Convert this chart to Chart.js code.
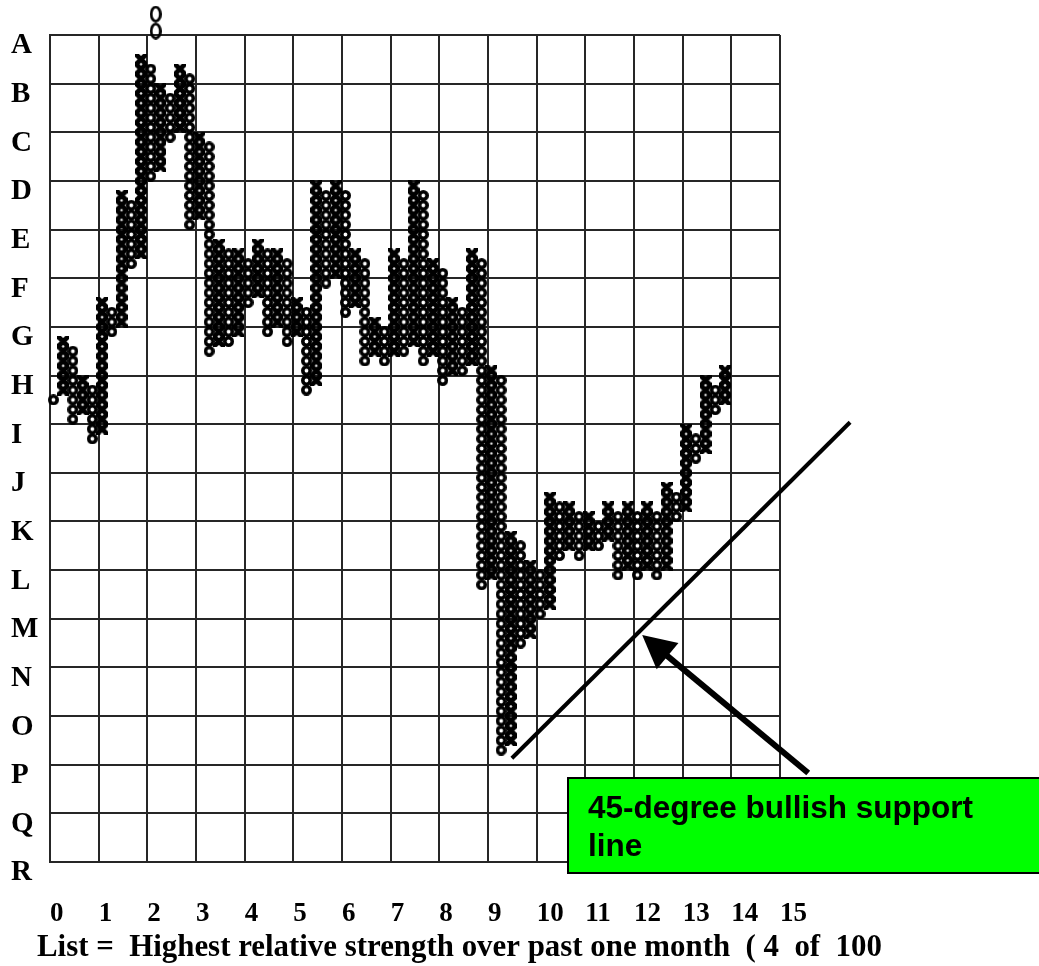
<!DOCTYPE html>
<html>
<head>
<meta charset="utf-8">
<script src="https://cdn.jsdelivr.net/npm/chart.js@4/dist/chart.umd.min.js"></script>
<style>
  html, body { margin: 0; padding: 0; background: #fff; }
  #wrap { width: 1039px; height: 966px; position: relative; }
</style>
</head>
<body>
<div id="wrap"><canvas id="c" width="1039" height="966"></canvas></div>
<script>
// ---------- DATA ----------
// Tick labels (y bottom -> top, x left -> right)
const yTickLabels = ['R','Q','P','O','N','M','L','K','J','I','H','G','F','E','D','C','B','A'];
const xTickLabels = ['0','1','2','3','4','5','6','7','8','9','10','11','12','13','14','15'];

// Point & figure columns (box units: 5 boxes per grid cell)
const colTypes = ['O','X','O','X','O','X','O','X','O','X',
                  'O','X','O','X','O','X','O','X','O','X',
                  'O','X','O','X','O','X','O','X','O','X',
                  'O','X','O','X','O','X','O','X','O','X',
                  'O','X','O','X','O','X','O','X','O','X',
                  'O','X','O','X','O','X','O','X','O','X',
                  'O','X','O','X','O','X','O','X','O','X'];
const colLow  = [47,48,45,46,43,44,54,55,61,62,
                 70,71,74,75,65,66,52,53,53,54,
                 57,58,54,55,53,54,48,49,59,60,
                 56,57,51,52,51,52,52,53,51,52,
                 49,50,50,51,28,29,11,12,22,23,
                 25,26,31,32,31,32,32,33,29,30,
                 29,30,29,30,35,36,41,42,46,47];
const colHigh = [47,53,52,49,48,57,56,68,67,82,
                 81,79,78,81,80,74,73,63,62,62,
                 61,63,62,62,61,57,56,69,68,69,
                 68,62,61,55,54,62,61,69,68,61,
                 60,57,56,62,61,50,49,33,32,30,
                 29,37,36,36,35,35,34,36,35,36,
                 35,36,35,38,37,44,43,49,48,50];

// The two tall "0" marks printed above column 10
const markX = [10.86, 10.86];
const markY = [87.15, 85.4];

// 45-degree support line and arrow (in axis units)
const supportX = [47.45, 82.2];
const supportY = [10.66, 45.2];
const arrowX = [77.9, 60.84];   // tail, tip
const arrowY = [9.15, 23.33];

const calloutLines = ['45-degree bullish support', 'line'];
const caption = 'List =  Highest relative strength over past one month  ( 4  of  100';

// ---------- GLYPHS ----------
function makeO(w, h, lw) {
  const c = document.createElement('canvas');
  c.width = w; c.height = h;
  const g = c.getContext('2d');
  g.strokeStyle = '#000'; g.lineWidth = lw;
  g.beginPath();
  g.ellipse(w / 2, h / 2, w / 2 - lw / 2, h / 2 - lw / 2, 0, 0, Math.PI * 2);
  g.stroke();
  return c;
}
function makeX(w, h, lw) {
  const c = document.createElement('canvas');
  c.width = w; c.height = h;
  const g = c.getContext('2d');
  g.strokeStyle = '#000'; g.lineWidth = lw; g.lineCap = 'square';
  g.beginPath();
  g.moveTo(1.5, 1); g.lineTo(w - 1.5, h - 1);
  g.moveTo(w - 1.5, 1); g.lineTo(1.5, h - 1);
  g.stroke();
  return c;
}
const glyphO = makeO(11, 11, 3.6);
const glyphX = makeX(12, 11, 4.8);
const glyphMark = makeO(12, 17, 2.8);

// ---------- BUILD POINTS ----------
const COL_SHIFT = 0.35; // column centre offset inside its box
const xPts = [], oPts = [];
for (let i = 0; i < colTypes.length; i++) {
  const target = colTypes[i] === 'X' ? xPts : oPts;
  for (let k = colLow[i]; k <= colHigh[i]; k++) {
    target.push({ x: i + COL_SHIFT, y: k + 0.5 });
  }
}
const markPts = markX.map((x, i) => ({ x, y: markY[i] }));
const supportPts = supportX.map((x, i) => ({ x, y: supportY[i] }));

// ---------- OVERLAY PLUGIN ----------
const overlay = {
  id: 'overlay',
  afterDraw(chart) {
    const ctx = chart.ctx;
    const xs = chart.scales.x, ys = chart.scales.y;
    ctx.save();
    // callout box
    ctx.fillStyle = '#00FF00';
    ctx.fillRect(568, 778, 480, 95);
    ctx.strokeStyle = '#000';
    ctx.lineWidth = 2;
    ctx.strokeRect(568, 778, 480, 95);
    ctx.fillStyle = '#000';
    ctx.textAlign = 'left';
    ctx.textBaseline = 'alphabetic';
    ctx.font = 'bold 31.5px "Liberation Sans", Arial, sans-serif';
    ctx.fillText(calloutLines[0], 588, 818);
    ctx.fillText(calloutLines[1], 588, 856);

    // arrow
    const tx = xs.getPixelForValue(arrowX[0]), ty = ys.getPixelForValue(arrowY[0]);
    const hx = xs.getPixelForValue(arrowX[1]), hy = ys.getPixelForValue(arrowY[1]);
    const ang = Math.atan2(hy - ty, hx - tx);
    const headLen = 33, headHalf = 17;
    const bx = hx - Math.cos(ang) * headLen, by = hy - Math.sin(ang) * headLen;
    ctx.strokeStyle = '#000';
    ctx.lineWidth = 6;
    ctx.beginPath();
    ctx.moveTo(tx, ty);
    ctx.lineTo(bx + Math.cos(ang) * 2, by + Math.sin(ang) * 2);
    ctx.stroke();
    ctx.beginPath();
    ctx.moveTo(hx, hy);
    ctx.lineTo(bx + Math.sin(ang) * headHalf, by - Math.cos(ang) * headHalf);
    ctx.lineTo(bx - Math.sin(ang) * headHalf, by + Math.cos(ang) * headHalf);
    ctx.closePath();
    ctx.fill();

    // caption
    let size = 30;
    ctx.font = 'bold ' + size + 'px "Liberation Serif", "Times New Roman", serif';
    const w = ctx.measureText(caption).width;
    size = size * 845 / w;
    ctx.font = 'bold ' + size.toFixed(2) + 'px "Liberation Serif", "Times New Roman", serif';
    ctx.fillText(caption, 37, 956);
    ctx.restore();
  }
};

// ---------- CHART ----------
const gridColor = '#262626';
new Chart(document.getElementById('c'), {
  type: 'scatter',
  data: {
    datasets: [
      { label: 'X', data: xPts, pointStyle: glyphX, pointRadius: 5, hoverRadius: 5, clip: false },
      { label: 'O', data: oPts, pointStyle: glyphO, pointRadius: 5, hoverRadius: 5, clip: false },
      { label: 'mark', data: markPts, pointStyle: glyphMark, pointRadius: 30, hoverRadius: 30, clip: false },
      { label: 'support', type: 'line', data: supportPts, borderColor: '#000', borderWidth: 4,
        pointRadius: 0, fill: false, clip: false, tension: 0 }
    ]
  },
  options: {
    responsive: false,
    animation: false,
    devicePixelRatio: 1,
    events: [],
    layout: { padding: { top: 35, right: 259, bottom: 0, left: 11 } },
    plugins: { legend: { display: false }, tooltip: { enabled: false }, title: { display: false } },
    scales: {
      x: {
        type: 'linear', min: 0, max: 75,
        afterFit: s => { s.height = 104; },
        grid: { color: gridColor, lineWidth: 2, drawTicks: false },
        border: { display: true, color: gridColor, width: 2 },
        ticks: {
          stepSize: 5, autoSkip: false, maxRotation: 0, minRotation: 0,
          align: 'start', padding: 36, color: '#000',
          font: { family: '"Liberation Serif", "Times New Roman", serif', size: 27, weight: 'bold' },
          callback: v => xTickLabels[Math.round(v / 5)]
        }
      },
      y: {
        type: 'linear', min: 0, max: 85,
        afterFit: s => { s.width = 39; },
        grid: { color: gridColor, lineWidth: 2, drawTicks: false },
        border: { display: true, color: gridColor, width: 2 },
        ticks: {
          stepSize: 5, autoSkip: false, crossAlign: 'far', labelOffset: 11, padding: 0, color: '#000',
          font: { family: '"Liberation Serif", "Times New Roman", serif', size: 29, weight: 'bold' },
          callback: v => yTickLabels[Math.round(v / 5)]
        }
      }
    }
  },
  plugins: [overlay]
});
</script>
</body>
</html>
